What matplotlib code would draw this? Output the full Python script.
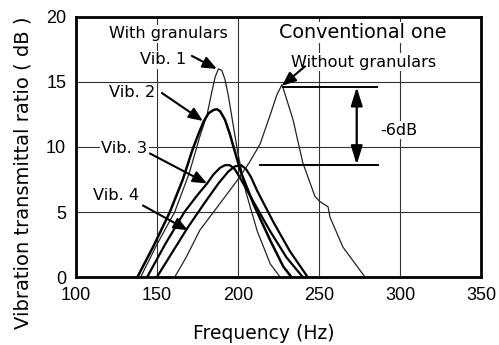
import matplotlib.pyplot as plt

# Veriler
vib1_f = [140, 150, 161, 170, 176.5, 181, 184, 186, 188, 190, 192, 194, 196, 200, 205, 212, 220, 226]
vib1_v = [0, 2.5, 5, 8, 10.8, 12.5, 14.3, 15.4, 16, 15.9, 15.2, 14, 12.5, 9.5, 6.5, 3.5, 1, 0]

vib2_f = [138, 148, 158, 166, 172, 176, 179, 182, 185, 187, 189, 192, 195, 198, 202, 210, 220, 228, 233]
vib2_v = [0, 2.4, 5, 7.5, 9.8, 11.1, 12.0, 12.6, 12.85, 12.9, 12.75, 12.1, 11.0, 9.7, 8, 5.5, 2.8, 0.8, 0]

vib3_f = [144, 155, 167, 175, 181, 185, 189, 192, 195, 198, 201, 205, 210, 220, 230, 240]
vib3_v = [0, 2.5, 5, 6.3, 7.2, 7.9, 8.4, 8.6, 8.6, 8.3, 7.7, 6.8, 5.7, 3.5, 1.5, 0]

vib4_f = [150, 160, 169, 180, 188, 194, 198, 202, 205, 208, 212, 222, 232, 243]
vib4_v = [0, 2, 3.8, 5.8, 7.2, 8.1, 8.5, 8.6, 8.3, 7.7, 6.6, 4.2, 2.0, 0]

conv_f = [161, 168, 176.5, 188, 200, 207, 213.6, 220, 224, 227.2, 234, 240,
          247.5, 250.6, 255.6, 256.8, 264.8, 278.4]
conv_v = [0, 1.5, 3.6, 5.5, 7.5, 8.8, 10.2, 12.5, 14, 14.8, 12.1, 8.8,
          6.2, 5.8, 5.4, 4.6, 2.3, 0]

x_ticks = [100, 150, 200, 250, 300, 350]
y_ticks = [0, 5, 10, 15, 20]

fig = plt.figure(figsize=(4.99, 3.45), dpi=100)
ax = fig.add_axes([0.152, 0.197, 0.812, 0.754])

ax.set_xlim(100, 350)
ax.set_ylim(0, 20)
ax.set_xticks(x_ticks)
ax.set_yticks(y_ticks)
ax.tick_params(length=0, pad=7)
for lbl in ax.get_xticklabels() + ax.get_yticklabels():
    lbl.set_fontfamily('Liberation Sans')
    lbl.set_fontsize(13)
for s in ax.spines.values():
    s.set_linewidth(2.0)
ax.grid(True, color='#333333', linewidth=0.8)
ax.set_axisbelow(True)

ax.plot(vib1_f, vib1_v, color='#222222', lw=0.9)
ax.plot(vib2_f, vib2_v, color='black', lw=1.8)
ax.plot(vib3_f, vib3_v, color='black', lw=1.6)
ax.plot(vib4_f, vib4_v, color='black', lw=1.6)
ax.plot(conv_f, conv_v, color='#222222', lw=0.9)

# -6dB isaretleri
ax.plot([227.8, 285.8], [14.6, 14.6], color='black', lw=1.4)
ax.plot([213.6, 286.4], [8.65, 8.65], color='black', lw=1.4)
ax.annotate('', xy=(273.3, 14.6), xytext=(273.3, 8.65),
            arrowprops=dict(arrowstyle='<|-|>,head_length=0.8,head_width=0.25',
                            mutation_scale=14, color='black', lw=1.6,
                            shrinkA=0, shrinkB=0), zorder=5)

box = dict(facecolor='white', edgecolor='none', pad=1)
ax.text(157.1, 18.7, 'With granulars', fontsize=11.6, ha='center', va='center', bbox=box)
ax.text(277.2, 18.8, 'Conventional one', fontsize=13.8, ha='center', va='center', bbox=box)
ax.text(277.8, 16.5, 'Without granulars', fontsize=11.6, ha='center', va='center', bbox=box)
ax.text(154.0, 16.7, 'Vib. 1', fontsize=11.7, ha='center', va='center', bbox=box)
ax.text(134.6, 14.15, 'Vib. 2', fontsize=11.7, ha='center', va='center', bbox=box)
ax.text(129.9, 9.9, 'Vib. 3', fontsize=11.7, ha='center', va='center', bbox=box)
ax.text(124.7, 6.3, 'Vib. 4', fontsize=11.7, ha='center', va='center', bbox=box)
ax.text(299.1, 11.3, '-6dB', fontsize=11.5, ha='center', va='center', bbox=box)

oklar = [((171.6, 17.0), (187.0, 16.0)),
         ((153.1, 14.15), (178.4, 12.0)),
         ((145.7, 9.5), (180.9, 7.2)),
         ((141.4, 5.5), (169.1, 3.6)),
         ((241.4, 16.2), (227.2, 14.7))]
for bas, uc in oklar:
    ax.annotate('', xy=uc, xytext=bas,
                arrowprops=dict(arrowstyle='-|>,head_length=0.6,head_width=0.25',
                                mutation_scale=14, color='black', lw=1.5,
                                shrinkA=0, shrinkB=0), zorder=5)

ax.set_xlabel('Frequency (Hz)', fontsize=13.5)
ax.xaxis.set_label_coords(0.464, -0.18)
fig.text(23 / 499, 1 - 173 / 345, 'Vibration transmittal ratio ( dB )', fontsize=14,
         rotation=90, ha='center', va='center')

fig.savefig('out.png', dpi=100)
